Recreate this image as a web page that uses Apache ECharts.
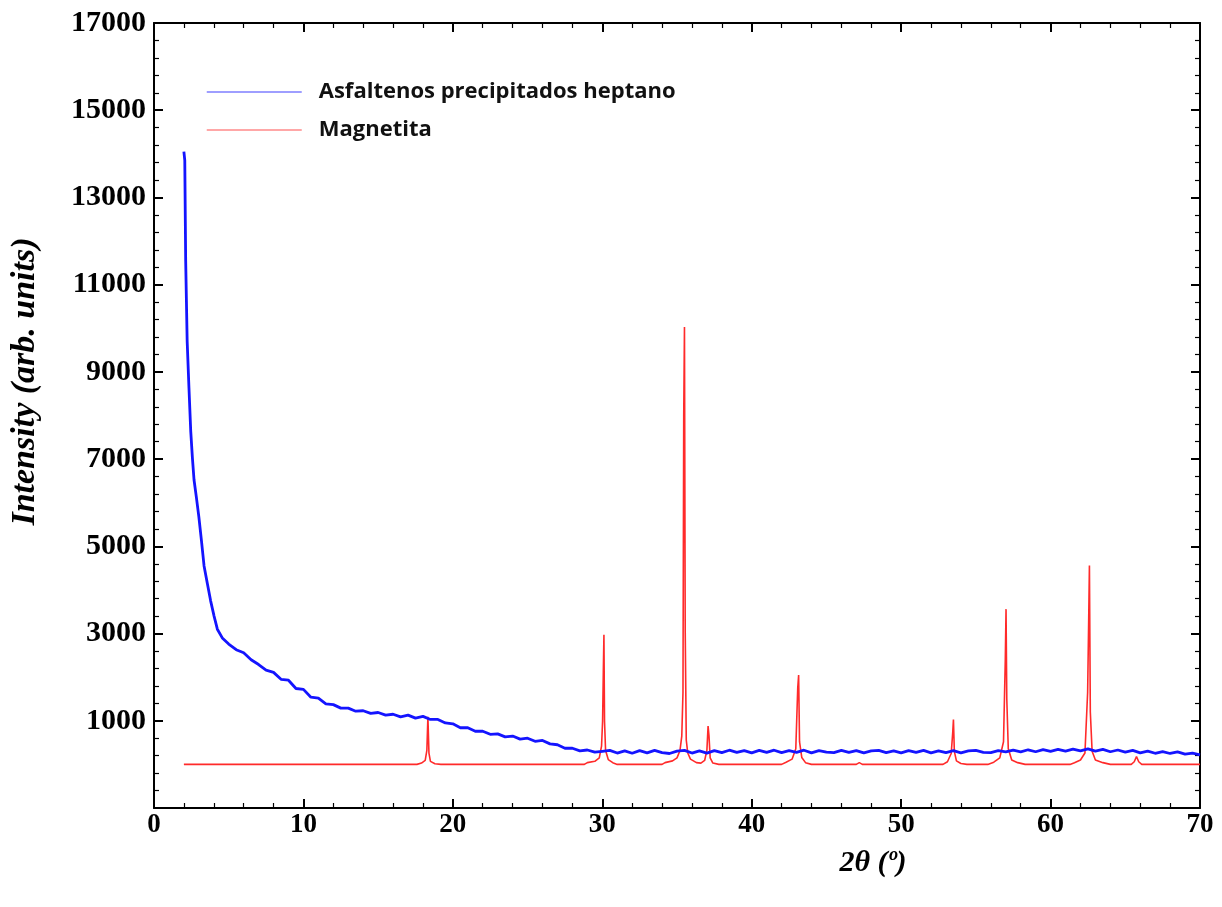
<!DOCTYPE html>
<html>
<head>
<meta charset="utf-8">
<script src="https://cdn.jsdelivr.net/npm/echarts@6/dist/echarts.min.js"></script>
<style>
html,body{margin:0;padding:0;background:#fff;}
#chart{width:1222px;height:907px;}
</style>
</head>
<body>
<div id="chart"></div>
<script>
// ---- data ----
var seriesNames = ['Asfaltenos precipitados heptano', 'Magnetita'];
var xTitle = '2θ (º)';
var yTitle = 'Intensity (arb. units)';

var asfTheta = [2.00,2.06,2.12,2.22,2.34,2.46,2.57,2.68,2.83,3.00,3.17,3.35,3.57,3.79,4.02,4.24,4.57,5.0,5.5,
6.0,6.5,7.0,7.5,8.0,8.5,9.0,9.5,10.0,10.5,11.0,11.5,12.0,12.5,13.0,13.5,14.0,14.5,15.0,15.5,16.0,16.5,17.0,17.5,18.0,18.5,19.0,19.5,
20.0,20.5,21.0,21.5,22.0,22.5,23.0,23.5,24.0,24.5,25.0,25.5,26.0,26.5,27.0,27.5,28.0,28.5,29.0,29.5,
30.0,30.5,31.0,31.5,32.0,32.5,33.0,33.5,34.0,34.5,35.0,35.5,36.0,36.5,37.0,37.5,38.0,38.5,39.0,39.5,
40.0,40.5,41.0,41.5,42.0,42.5,43.0,43.5,44.0,44.5,45.0,45.5,46.0,46.5,47.0,47.5,48.0,48.5,49.0,49.5,
50.0,50.5,51.0,51.5,52.0,52.5,53.0,53.5,54.0,54.5,55.0,55.5,56.0,56.5,57.0,57.5,58.0,58.5,59.0,59.5,
60.0,60.5,61.0,61.5,62.0,62.5,63.0,63.5,64.0,64.5,65.0,65.5,66.0,66.5,67.0,67.5,68.0,68.5,69.0,69.5,70.0];
var asfIntensity = [14050,13850,11550,9700,8630,7630,7030,6520,6140,5680,5150,4550,4150,3750,3400,3100,2900,2760,2630,
2560,2400,2290,2160,2110,1950,1930,1740,1720,1540,1520,1390,1370,1290,1290,1220,1230,1170,1190,1130,1150,1090,1130,1060,1100,1030,1030,950,
930,840,840,760,760,690,700,630,650,580,600,530,550,470,450,370,370,310,330,280,
300,320,260,310,255,315,265,320,270,250,305,320,260,310,260,315,270,325,275,315,
265,320,275,325,270,315,275,325,265,315,280,270,320,275,315,265,310,320,270,310,
265,315,275,320,265,310,270,315,265,310,320,275,270,315,285,325,285,335,290,340,
300,345,305,350,310,355,305,345,290,330,280,320,265,305,255,295,250,285,235,260,220];

var magTheta = [2.0,17.6,17.9,18.15,18.26,18.33,18.40,18.5,18.8,19.2,
28.8,29.0,29.5,29.8,29.95,30.02,30.07,30.11,30.15,30.22,30.4,30.7,31.0,
34.0,34.2,34.7,35.0,35.2,35.32,35.40,35.45,35.50,35.55,35.62,35.72,35.9,36.3,36.6,36.85,37.0,37.08,37.14,37.22,37.4,37.8,
42.0,42.3,42.7,42.95,43.08,43.14,43.2,43.35,43.6,44.0,
47.0,47.2,47.4,
52.8,53.1,53.35,53.45,53.5,53.56,53.7,54.0,54.4,
55.8,56.2,56.6,56.85,56.97,57.02,57.07,57.17,57.4,57.8,58.3,
61.3,61.6,62.0,62.3,62.48,62.55,62.6,62.66,62.78,63.0,63.5,64.0,
65.4,65.6,65.75,65.9,66.1,70.0];
var magIntensity = [0,0,30,90,320,1090,260,70,15,0,
0,40,70,150,420,990,2130,2970,990,320,110,40,0,
0,40,80,150,320,650,1650,8000,10030,3050,560,260,120,40,30,90,320,880,660,150,30,0,
0,50,120,360,1750,2050,520,160,40,0,
0,40,0,
0,60,250,720,1030,300,80,20,0,
0,50,150,520,2400,3560,1500,360,100,40,0,
0,40,100,260,1650,3300,4560,1200,300,100,40,0,
0,60,180,60,0,0];

var xTicks = {min: 0, max: 70, interval: 10};
var yTicks = {min: -1000, max: 17000, interval: 2000};

function pairs(xs, ys){ var out=[]; for (var i=0;i<xs.length;i++) out.push([xs[i], ys[i]]); return out; }

var serifBold = {fontFamily: '"Liberation Serif","DejaVu Serif",serif', fontWeight: 'bold', color: '#000'};

function xAxisDef(pos, showLabel){
  return {
    type: 'value', position: pos, min: xTicks.min, max: xTicks.max, interval: xTicks.interval,
    axisLine: {show: true, onZero: false, lineStyle: {color: '#000', width: 2}},
    axisTick: {show: true, inside: true, length: 9, lineStyle: {color: '#000', width: 2}},
    minorTick: {show: true, splitNumber: 5, length: 5, lineStyle: {color: '#000', width: 1.2}},
    splitLine: {show: false},
    axisLabel: Object.assign({show: showLabel, fontSize: 27, margin: 4}, serifBold),
    name: showLabel ? xTitle : '',
    nameLocation: 'middle', nameGap: 40,
    nameTextStyle: {fontFamily: '"Liberation Serif",serif', fontWeight: 'bold', fontStyle: 'italic', fontSize: 30, color: '#000', padding: [0,0,0,392]}
  };
}
function yAxisDef(pos, showLabel){
  return {
    type: 'value', position: pos, min: yTicks.min, max: yTicks.max, interval: yTicks.interval,
    axisLine: {show: true, onZero: false, lineStyle: {color: '#000', width: 2}},
    axisTick: {show: true, inside: true, length: 9, lineStyle: {color: '#000', width: 2}},
    minorTick: {show: true, splitNumber: 5, length: 5, lineStyle: {color: '#000', width: 1.2}},
    splitLine: {show: false},
    axisLabel: Object.assign({show: showLabel, fontSize: 30, margin: 8,
      formatter: function(v){ return v < 0 ? '' : String(v); }}, serifBold),
    name: showLabel ? yTitle : '',
    nameLocation: 'middle', nameGap: 112, nameRotate: 90,
    nameTextStyle: {fontFamily: '"Liberation Serif",serif', fontWeight: 'bold', fontStyle: 'italic', fontSize: 34, color: '#000', padding: [0,0,0,68]}
  };
}

var chart = echarts.init(document.getElementById('chart'), null, {renderer: 'canvas'});
chart.setOption({
  animation: false,
  backgroundColor: '#fff',
  grid: {left: 154, right: 22, top: 23, bottom: 99, containLabel: false},
  legend: {
    orient: 'vertical', left: 201, top: 75, itemWidth: 95, itemHeight: 14, itemGap: 14,
    data: seriesNames,
    itemStyle: {opacity: 0},
    lineStyle: {width: 1.5, opacity: 0.55},
    textStyle: {fontFamily: '"Open Sans","Liberation Sans",sans-serif', fontWeight: 'bold', fontSize: 22, lineHeight: 24, color: '#111', padding: [0,0,0,12]}
  },
  xAxis: [xAxisDef('bottom', true), xAxisDef('top', false)],
  yAxis: [yAxisDef('left', true), yAxisDef('right', false)],
  series: [
    {name: seriesNames[0], type: 'line', xAxisIndex: 0, yAxisIndex: 0, showSymbol: false, symbol: 'none',
     data: pairs(asfTheta, asfIntensity), lineStyle: {color: '#1414ff', width: 2.8}, itemStyle: {color: '#1414ff'}, z: 3},
    {name: seriesNames[1], type: 'line', xAxisIndex: 0, yAxisIndex: 0, showSymbol: false, symbol: 'none',
     data: pairs(magTheta, magIntensity), lineStyle: {color: '#ff2a2a', width: 1.6}, itemStyle: {color: '#ff2a2a'}, z: 2}
  ]
});
</script>
</body>
</html>
